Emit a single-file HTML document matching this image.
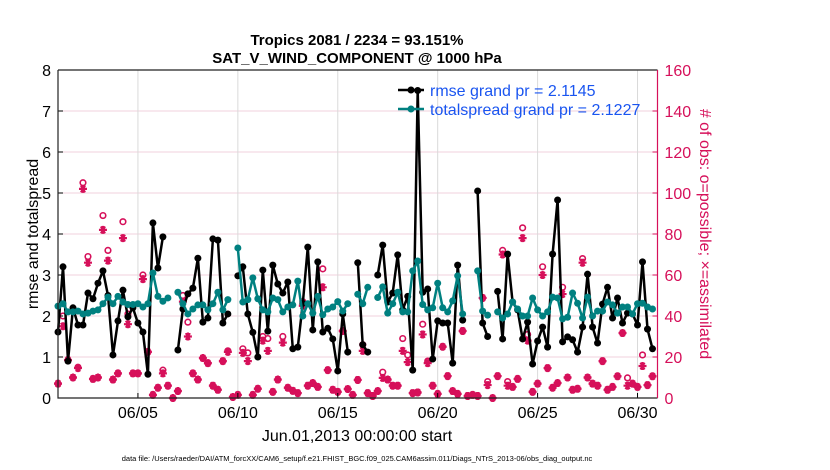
<!DOCTYPE html>
<html><head><meta charset="utf-8"><style>
body{margin:0;background:#fff;}
svg{display:block;font-family:"Liberation Sans",sans-serif;}
</style></head><body>
<svg id="chart" width="830" height="470" viewBox="0 0 830 470" xmlns="http://www.w3.org/2000/svg">
<rect width="830" height="470" fill="#fff"/>
<g id="grid"></g>
<g id="obs"></g>
<g id="series"></g>
<g id="axes"></g>
<text x="357" y="45" text-anchor="middle" font-size="15" font-weight="bold">Tropics 2081 / 2234 = 93.151%</text>
<text x="357" y="63" text-anchor="middle" font-size="15" font-weight="bold">SAT_V_WIND_COMPONENT @ 1000 hPa</text>
<text x="0" y="0" transform="translate(38,234) rotate(-90)" text-anchor="middle" font-size="16">rmse and totalspread</text>
<text x="0" y="0" transform="translate(700,234) rotate(90)" text-anchor="middle" font-size="16" fill="#d6105a"># of obs: o=possible; ×=assimilated</text>
<text x="357" y="441" text-anchor="middle" font-size="16">Jun.01,2013 00:00:00 start</text>
<text x="357" y="461" text-anchor="middle" font-size="7.5">data file: /Users/raeder/DAI/ATM_forcXX/CAM6_setup/f.e21.FHIST_BGC.f09_025.CAM6assim.011/Diags_NTrS_2013-06/obs_diag_output.nc</text>
<g id="legend">
<line x1="398" y1="90" x2="424" y2="90" stroke="#000" stroke-width="2.5"/>
<circle cx="411" cy="90" r="3.5" fill="#000"/>
<text x="430" y="96" font-size="16" fill="#1a55f0">rmse grand pr = 2.1145</text>
<line x1="398" y1="109" x2="424" y2="109" stroke="#008080" stroke-width="2.5"/>
<circle cx="411" cy="109" r="3.5" fill="#008080"/>
<text x="430" y="115" font-size="16" fill="#1a55f0">totalspread grand pr = 2.1227</text>
</g>
</svg>
<script>
const N=null;
const rmse=[1.61,3.2,0.9,2.2,1.78,1.78,2.56,2.42,2.8,3.1,2.5,1.05,1.88,2.63,1.98,2.2,1.83,1.61,0.58,4.27,3.17,3.93,N,N,1.17,2.17,2.54,2.68,3.41,1.85,1.95,3.88,3.85,1.83,2.05,N,2.98,3.2,2.05,1.6,1.0,3.12,1.63,3.24,2.78,2.56,2.83,1.2,1.24,2.31,3.68,1.66,3.32,1.61,1.7,1.44,0.66,2.05,1.12,N,3.3,1.3,1.12,N,3.0,3.73,2.34,2.56,3.49,2.15,2.48,0.68,7.5,2.58,2.66,0.95,1.88,1.83,1.83,0.85,3.24,1.9,N,N,5.05,1.83,1.5,N,2.6,1.44,3.51,2.34,2.15,1.44,1.85,0.83,1.39,1.73,1.24,3.51,4.83,1.37,1.49,1.42,1.12,1.73,3.02,1.73,1.34,2.29,2.7,1.95,2.44,1.83,2.07,2.05,1.78,3.32,1.68,1.2];
const spread=[2.24,2.3,2.1,2.1,2.12,2.05,2.07,2.12,2.15,2.3,2.46,2.3,2.48,2.34,2.28,2.28,2.3,2.22,2.3,3.05,2.48,2.36,2.44,N,2.58,2.3,2.05,2.17,2.27,2.27,2.15,2.3,2.58,2.15,2.4,N,3.66,2.34,2.4,2.93,2.42,2.15,2.1,2.44,2.4,2.1,2.22,2.27,2.85,2.0,2.3,2.07,2.48,2.03,2.17,2.22,2.35,2.12,2.3,N,2.53,2.3,2.7,N,2.45,2.71,2.07,2.3,2.58,2.1,2.1,3.1,3.34,2.28,2.15,2.2,2.8,2.2,2.1,2.37,2.98,2.05,N,N,3.1,2.12,2.02,N,2.1,1.95,2.05,2.34,2.17,2.0,2.0,2.44,2.15,2.0,2.1,2.46,2.44,1.93,1.97,2.56,2.31,1.95,2.46,2.0,2.12,2.12,2.34,2.27,2.07,2.22,2.22,2.05,2.3,2.31,2.22,2.17];
const assimilated=[7,35,18.5,10,14.6,102,66,9.3,10,82,67,9,12,78,36,12,12,58,22.5,1.5,5,12,6,0,3.4,47,30,12,9,19.5,17,6,4,18,22.5,0.5,1.5,22,18,1.5,4.5,28,23,3,9,27,5,3.5,2.4,45,6,7.3,5.4,54,13.6,4,3,32.7,4.4,1.5,8.8,23,2.4,1,3.4,9.8,9,6,6,23,17.5,2.4,2.7,31,17,6,2,25,10.7,3.4,2,32.7,1,1.5,1,48.8,6.3,0,10.7,70,6,5.4,9.3,78,28,3,7,60,14.6,5,7.3,50.7,10,4,4.5,66,10,7,6,18,4,5.4,10.6,31.7,6,7,5.4,15.6,6.3,10.6];
const possible=[7,40,18.5,10,15,105,69,9.3,10,89,72,9,12,86,41,12,12,60,22.5,1.5,5,13.6,6,0,3.4,50,37,12,9,19.5,17,6,4,18,23,0.5,1.5,24,22,1.5,4.5,30,29,3,9,30,5,3.5,2.4,47,6,7.3,5.4,63,13.6,4,3,32.7,4.4,1.5,8.8,26,2.4,1,3.4,12.6,9,6,6,29,21,2.4,2.7,36,18,6,2,25,10.7,3.4,2,32.7,1,1.5,1,48.8,8,0,10.7,72,8,5.4,9.3,83,31,3,7,64,14.6,5,7.3,54,10,4,4.5,68,10,7,6,18,4,5.4,10.6,31.7,9.8,7,5.4,21,6.3,10.6];
const xTickDays=[5,10,15,20,25,30];
const xTickLabels=["06/05","06/10","06/15","06/20","06/25","06/30"];
const yTicks=[0,1,2,3,4,5,6,7,8];
const y2Ticks=[0,20,40,60,80,100,120,140,160];

const L=58,R=657.5,T=70,B=398;
const xs=d=>L+(d-1)*(R-L)/30;
const ys=v=>B-v*(B-T)/8;
const y2s=v=>B-v*(B-T)/160;
const dayOf=i=>1+i*0.25;
const NS="http://www.w3.org/2000/svg";
function mk(tag,attrs,parent){const e=document.createElementNS(NS,tag);for(const k in attrs)e.setAttribute(k,attrs[k]);parent.appendChild(e);return e;}
const grid=document.getElementById('grid'),axes=document.getElementById('axes'),obs=document.getElementById('obs'),ser=document.getElementById('series');

yTicks.forEach((t,k)=>{
 if(t>0&&t<8){const g=mk('line',{x1:L,x2:R,y1:ys(t),y2:ys(t),stroke:'#f0d0dc','stroke-width':1},grid);
 
 }
 const tk=mk('line',{x1:L,x2:L+5,y1:ys(t),y2:ys(t),stroke:'#000'},axes);
 
 
 const tx=mk('text',{x:L-7,y:ys(t)+6,'text-anchor':'end','font-size':16},axes);
 
 
 tx.textContent=t;
});
y2Ticks.forEach(t=>{
 const tk=mk('line',{x1:R-5,x2:R,y1:y2s(t),y2:y2s(t),stroke:'#d6105a'},axes);
 
 
 const tx=mk('text',{x:R+7,y:y2s(t)+6,'font-size':16,fill:'#d6105a'},axes);
 
 
 tx.textContent=t;
});
xTickDays.forEach((d,k)=>{
 const g=mk('line',{x1:xs(d),x2:xs(d),y1:T,y2:B,stroke:'#dadada'},grid);
 
 
 const tk=mk('line',{x1:xs(d),x2:xs(d),y1:B,y2:B-5,stroke:'#000'},axes);
 
 
 const tx=mk('text',{x:xs(d),y:B+20,'text-anchor':'middle','font-size':16},axes);
 
 
 tx.textContent=xTickLabels[k];
});
const fr=mk('path',{d:`M${L},${T}H${R}M${L},${T}V${B}H${R}`,fill:'none',stroke:'#222','stroke-width':1.2},axes);


const ra=mk('line',{x1:R,x2:R,y1:T,y2:B,stroke:'#d6105a','stroke-width':1.2},axes);



// observation markers
possible.forEach((v,i)=>{if(v==null)return;
 const c=mk('circle',{cx:xs(dayOf(i)),cy:y2s(v),r:2.8,fill:'none',stroke:'#d6105a','stroke-width':1.6},obs);
 
 
});
assimilated.forEach((v,i)=>{if(v==null)return;
 const x=xs(dayOf(i)),y=y2s(v),r=4;
 const p=mk('path',{d:`M${x-r},${y}H${x+r}M${x-r*0.5},${y-r*0.87}L${x+r*0.5},${y+r*0.87}M${x+r*0.5},${y-r*0.87}L${x-r*0.5},${y+r*0.87}M${x},${y-r}V${y+r}`,stroke:'#d6105a','stroke-width':2.2,fill:'none'},obs);
 
 
});
function drawSeries(vals,color,name){
 let d='',pen=false;
 vals.forEach((v,i)=>{if(v==null){pen=false;return;}
  d+=(pen?'L':'M')+xs(dayOf(i)).toFixed(1)+','+ys(v).toFixed(1);pen=true;});
 const p=mk('path',{d:d,fill:'none',stroke:color,'stroke-width':2.5,'stroke-linejoin':'round'},ser);
 
 
 vals.forEach((v,i)=>{if(v==null)return;
  const c=mk('circle',{cx:xs(dayOf(i)),cy:ys(v),r:3.5,fill:color},ser);
  
  
 });
}
drawSeries(rmse,'#000','rmse');
drawSeries(spread,'#008080','totalspread');
</script>
</body></html>
